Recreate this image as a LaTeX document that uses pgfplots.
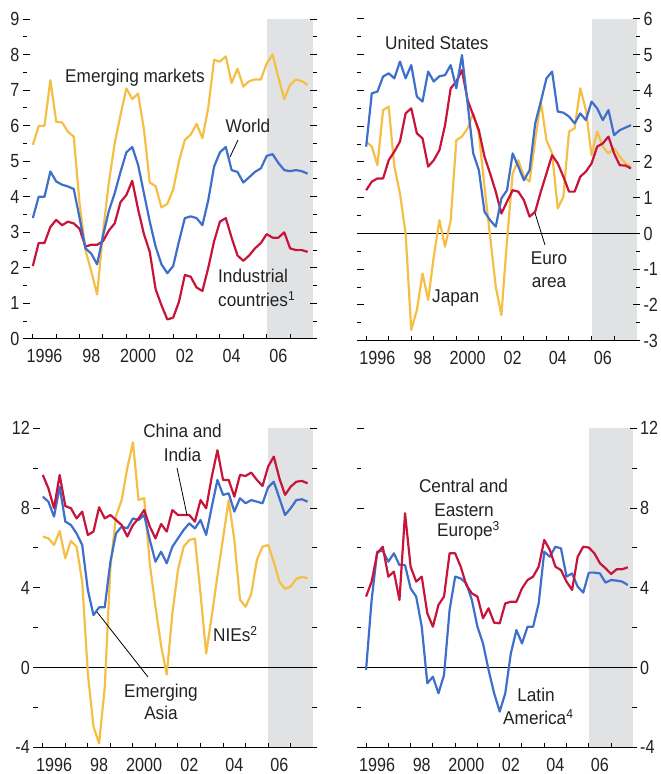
\documentclass[border=0pt]{standalone}
\usepackage{fontspec}
\setmainfont{Liberation Sans}[FakeStretch=0.85]
\newfontfamily\lblfont{Liberation Sans}[FakeStretch=0.93]
\usepackage{pgfplots}
\usepackage{pgfplotstable}
\pgfplotsset{compat=1.18}

\definecolor{cyel}{HTML}{F5BF45}
\definecolor{cblu}{HTML}{3E6FCB}
\definecolor{cred}{HTML}{C8143A}
\definecolor{cshade}{HTML}{E1E2E4}
\definecolor{ctext}{HTML}{222222}

% Quarterly growth rates, 1996Q1--2007Q4 (2006--07 projected)
\pgfplotstableread{
t       em     world  ind
1996.00 5.46   3.40   2.05
1996.25 5.99   4.00   2.70
1996.50 6.00   4.00   2.70
1996.75 7.28   4.71   3.15
1997.00 6.11   4.43   3.35
1997.25 6.09   4.34   3.20
1997.50 5.83   4.29   3.30
1997.75 5.69   4.22   3.25
1998.00 3.80   3.40   3.10
1998.25 2.50   2.55   2.60
1998.50 1.90   2.40   2.65
1998.75 1.25   2.10   2.65
1999.00 3.00   2.90   2.75
1999.25 4.40   3.60   3.05
1999.50 5.50   4.10   3.25
1999.75 6.30   4.70   3.85
2000.00 7.05   5.25   4.05
2000.25 6.75   5.40   4.45
2000.50 6.90   4.90   3.65
2000.75 5.90   4.10   2.95
2001.00 4.40   3.30   2.45
2001.25 4.30   2.60   1.40
2001.50 3.70   2.10   0.95
2001.75 3.80   1.85   0.55
2002.00 4.20   2.05   0.60
2002.25 5.00   2.75   1.05
2002.50 5.60   3.40   1.80
2002.75 5.75   3.45   1.75
2003.00 6.05   3.40   1.45
2003.25 5.65   3.20   1.35
2003.50 6.50   3.90   2.00
2003.75 7.85   4.85   2.75
2004.00 7.80   5.25   3.30
2004.25 7.95   5.40   3.40
2004.50 7.20   4.75   2.85
2004.75 7.60   4.70   2.35
2005.00 7.10   4.40   2.20
2005.25 7.25   4.55   2.35
2005.50 7.30   4.70   2.55
2005.75 7.30   4.80   2.70
2006.00 7.75   5.15   2.95
2006.25 8.00   5.20   2.85
2006.50 7.35   4.95   2.85
2006.75 6.75   4.75   3.00
2007.00 7.15   4.72   2.55
2007.25 7.30   4.75   2.50
2007.50 7.25   4.72   2.50
2007.75 7.15   4.65   2.45
}\worldtab

\pgfplotstableread{
t       us     euro   jp
1996.00 2.43   1.21   2.57
1996.25 3.92   1.45   2.43
1996.50 3.97   1.54   1.91
1996.75 4.39   1.54   3.45
1997.00 4.48   2.05   3.55
1997.25 4.34   2.29   1.87
1997.50 4.81   2.57   1.12
1997.75 4.34   3.36   0.00
1998.00 4.71   3.50  -2.70
1998.25 3.83   2.80  -2.14
1998.50 3.69   2.66  -1.12
1998.75 4.53   1.87  -1.86
1999.00 4.25   2.05  -0.65
1999.25 4.40   2.33   0.37
1999.50 4.43   3.03  -0.37
1999.75 4.71   4.06   0.37
2000.00 4.06   4.25   2.61
2000.25 4.99   4.57   2.71
2000.50 3.64   3.73   2.94
2000.75 2.24   3.31   3.36
2001.00 1.77   2.89   2.80
2001.25 0.61   2.15   1.31
2001.50 0.37   1.68  -0.09
2001.75 0.19   1.17  -1.49
2002.00 0.98   0.56  -2.28
2002.25 1.21   0.89  -0.19
2002.50 2.24   1.21   1.68
2002.75 1.87   1.17   2.05
2003.00 1.49   0.93   1.59
2003.25 1.77   0.47   1.45
2003.50 3.08   0.61   2.61
2003.75 3.69   1.17   3.69
2004.00 4.34   1.68   2.61
2004.25 4.53   2.19   2.24
2004.50 3.41   1.96   0.70
2004.75 3.38   1.59   1.03
2005.00 3.27   1.17   2.85
2005.25 3.08   1.17   2.94
2005.50 3.36   1.59   4.06
2005.75 3.17   1.73   3.45
2006.00 3.69   1.96   2.19
2006.25 3.50   2.43   2.85
2006.50 3.17   2.52   2.43
2006.75 3.45   2.71   2.24
2007.00 2.75   2.24   2.38
2007.25 2.89   1.91   2.15
2007.50 2.96   1.90   1.96
2007.75 3.03   1.82   1.87
}\advtab

\pgfplotstableread{
t       ci     ea     nie
1996.00  9.66  8.57   6.57
1996.25  8.99  8.32   6.48
1996.50  7.99  7.57   6.15
1996.75  9.66  9.07   6.85
1997.00  8.10  7.32   5.48
1997.25  7.99  7.15   6.35
1997.50  7.48  6.73   6.06
1997.75  7.82  6.15   4.30
1998.00  6.65  3.89  -0.30
1998.25  6.82  2.63  -2.97
1998.50  8.04  3.02  -3.80
1998.75  7.48  3.02  -1.00
1999.00  7.65  5.30   5.00
1999.25  7.40  6.73   7.60
1999.50  7.15  7.07   8.40
1999.75  6.57  6.98  10.00
2000.00  7.15  7.48  11.30
2000.25  7.48  7.40   8.40
2000.50  7.90  7.65   8.50
2000.75  7.07  6.40   5.20
2001.00  6.48  5.31   3.05
2001.25  7.20  5.81   1.10
2001.50  6.82  5.23  -0.35
2001.75  7.90  6.06   2.70
2002.00  7.65  6.48   4.90
2002.25  7.65  6.90   6.06
2002.50  7.65  7.23   6.40
2002.75  7.32  6.98   6.47
2003.00  8.40  7.40   3.70
2003.25  7.99  6.65   0.70
2003.50  9.58  8.07   2.60
2003.75 10.90  9.41   4.60
2004.00  9.41  8.66   6.50
2004.25  9.41  8.74   8.40
2004.50  8.57  7.82   6.40
2004.75  9.66  8.49   3.40
2005.00  9.61  8.24   3.05
2005.25  9.78  8.40   3.70
2005.50  9.41  8.32   5.40
2005.75  9.11  8.24   6.06
2006.00 10.08  9.04   6.15
2006.25 10.58  9.32   5.30
2006.50  9.49  8.49   4.30
2006.75  8.66  7.65   3.95
2007.00  9.07  7.99   4.06
2007.25  9.32  8.40   4.45
2007.50  9.36  8.44   4.55
2007.75  9.24  8.32   4.48
}\asiatab

\pgfplotstableread{
t       cee    la
1996.00 3.56  -0.12
1996.25 4.31   3.39
1996.50 5.73   5.81
1996.75 6.06   5.86
1997.00 4.56   5.31
1997.25 4.81   5.73
1997.50 3.39   5.14
1997.75 7.74   5.14
1998.00 5.06   3.97
1998.25 4.31   3.56
1998.50 4.56   2.05
1998.75 2.72  -0.79
1999.00 2.05  -0.46
1999.25 3.14  -1.29
1999.50 3.56  -0.38
1999.75 5.73   2.89
2000.00 5.73   4.56
2000.25 5.06   4.47
2000.50 4.14   4.22
2000.75 3.72   3.39
2001.00 3.56   2.05
2001.25 2.47   1.21
2001.50 2.97  -0.12
2001.75 2.25  -1.29
2002.00 2.22  -2.21
2002.25 3.22  -1.29
2002.50 3.30   0.71
2002.75 3.30   1.88
2003.00 3.97   1.21
2003.25 4.39   2.05
2003.50 4.56   2.05
2003.75 5.06   3.22
2004.00 6.40   5.81
2004.25 5.90   5.56
2004.50 5.06   6.06
2004.75 4.89   5.98
2005.00 4.31   4.56
2005.25 3.89   4.72
2005.50 5.56   4.06
2005.75 6.06   3.76
2006.00 6.02   4.76
2006.25 5.73   4.76
2006.50 5.23   4.72
2006.75 4.98   4.26
2007.00 4.69   4.39
2007.25 4.93   4.36
2007.50 4.93   4.31
2007.75 5.03   4.14
}\regiontab

\pgfplotsset{
  panel/.style={
    scale only axis,
    xmin=1995.58, xmax=2008.15,
    axis line style={draw=none},
    tick align=inside,
    xtick={1996.5,1998.5,...,2006.5},
    xticklabels={1996,98,2000,02,04,06},
    minor xtick={1996,1997,...,2007},
    major x tick style={draw=none},
    xtick pos=bottom,
    major tick length=7pt,
    minor tick length=4.5pt,
    tick style={black, line width=1pt},
    ticklabel style={font=\fontsize{19}{19}\selectfont, text=ctext},
    xticklabel style={yshift=-7pt},
    /pgf/number format/assume math mode=true,
    axis on top,
  },
  leftlab/.style={yticklabel pos=left, ytick pos=both},
  rightlab/.style={yticklabel pos=right, ytick pos=both},
  series/.style={line width=2.2pt, line join=round, mark=none},
}
\tikzset{
  lbl/.style={font=\lblfont\fontsize{18.5}{18.5}\selectfont, text=ctext, inner sep=0pt},
}

\begin{document}
\begin{tikzpicture}[x=1pt, y=1pt]
\useasboundingbox (0,0) rectangle (661,774);

% Top left: world, emerging markets, industrial countries
\begin{axis}[panel, leftlab, at={(23pt,435pt)}, anchor=south west,
  width=294pt, height=320pt, ymin=0, ymax=9,
  ytick={0,...,9}, minor y tick num=1]
  \addplot[fill=cshade, draw=none] coordinates {(2006,0) (2008,0) (2008,9) (2006,9)} -- cycle;
  \addplot[black, line width=1.2pt] coordinates {(1995.58,0) (2008.15,0)};
  \addplot[series, cyel] table[x=t, y=em] {\worldtab};
  \addplot[series, cred] table[x=t, y=ind] {\worldtab};
  \addplot[series, cblu] table[x=t, y=world] {\worldtab};
\end{axis}

% Top right: advanced economies
\begin{axis}[panel, rightlab, at={(356.7pt,433.3pt)}, anchor=south west,
  width=283.3pt, height=321.7pt, ymin=-3, ymax=6,
  ytick={-3,...,6}, minor y tick num=1]
  \addplot[fill=cshade, draw=none] coordinates {(2006,-3) (2008,-3) (2008,6) (2006,6)} -- cycle;
  \addplot[black, line width=1.2pt] coordinates {(1995.6,-3) (2008.15,-3)};
  \addplot[black, line width=1pt] coordinates {(1995.6,0) (2008.15,0)};
  \addplot[series, cyel] table[x=t, y=jp] {\advtab};
  \addplot[series, cred] table[x=t, y=euro] {\advtab};
  \addplot[series, cblu] table[x=t, y=us] {\advtab};
\end{axis}

% Bottom left: emerging Asia
\begin{axis}[panel, leftlab, at={(33.3pt,26.7pt)}, anchor=south west,
  width=283.3pt, height=319pt, ymin=-4, ymax=12,
  ytick={-4,0,4,8,12}, minor y tick num=1]
  \addplot[fill=cshade, draw=none] coordinates {(2006,-4) (2008,-4) (2008,12) (2006,12)} -- cycle;
  \addplot[black, line width=1.2pt] coordinates {(1995.58,-4) (2008.15,-4)};
  \addplot[black, line width=1pt] coordinates {(1995.58,0) (2008.15,0)};
  \addplot[series, cyel] table[x=t, y=nie] {\asiatab};
  \addplot[series, cblu] table[x=t, y=ea] {\asiatab};
  \addplot[series, cred] table[x=t, y=ci] {\asiatab};
\end{axis}

% Bottom right: other emerging regions
\begin{axis}[panel, rightlab, at={(356.7pt,26.7pt)}, anchor=south west,
  width=280pt, height=319pt, ymin=-4, ymax=12,
  ytick={-4,0,4,8,12}, minor y tick num=1]
  \addplot[fill=cshade, draw=none] coordinates {(2006,-4) (2008,-4) (2008,12) (2006,12)} -- cycle;
  \addplot[black, line width=1.2pt] coordinates {(1995.58,-4) (2008.15,-4)};
  \addplot[black, line width=1pt] coordinates {(1995.58,0) (2008.15,0)};
  \addplot[series, cblu] table[x=t, y=la] {\regiontab};
  \addplot[series, cred] table[x=t, y=cee] {\regiontab};
\end{axis}

% Series labels and leader lines
\node[lbl, anchor=base west] at (65,691) {Emerging markets};
\node[lbl, anchor=base] at (248,641) {World};
\draw[black, line width=0.8pt] (230,617) -- (238,634);
\node[lbl, anchor=base west] at (218,491) {Industrial};
\node[lbl, anchor=base west] at (218,467) {countries\textsuperscript{1}};

\node[lbl, anchor=base west] at (385,724) {United States};
\node[lbl, anchor=base] at (549,509) {Euro};
\node[lbl, anchor=base] at (549,486) {area};
\draw[black, line width=0.8pt] (535,561) -- (545,529);
\node[lbl, anchor=base west] at (432,471) {Japan};

\node[lbl, anchor=base] at (182.5,336) {China and};
\node[lbl, anchor=base] at (182.5,312) {India};
\draw[black, line width=0.8pt] (177,306) -- (187,259);
\node[lbl, anchor=base] at (161,76) {Emerging};
\node[lbl, anchor=base] at (161,54) {Asia};
\draw[black, line width=0.8pt] (97,162) -- (148,97);
\node[lbl, anchor=base west] at (213,132) {NIEs\textsuperscript{2}};

\node[lbl, anchor=base] at (463.5,281) {Central and};
\node[lbl, anchor=base] at (464,257) {Eastern};
\node[lbl, anchor=base west] at (437,237) {Europe\textsuperscript{3}};
\node[lbl, anchor=base] at (536,72) {Latin};
\node[lbl, anchor=base west] at (503,49) {America\textsuperscript{4}};
\end{tikzpicture}
\end{document}
